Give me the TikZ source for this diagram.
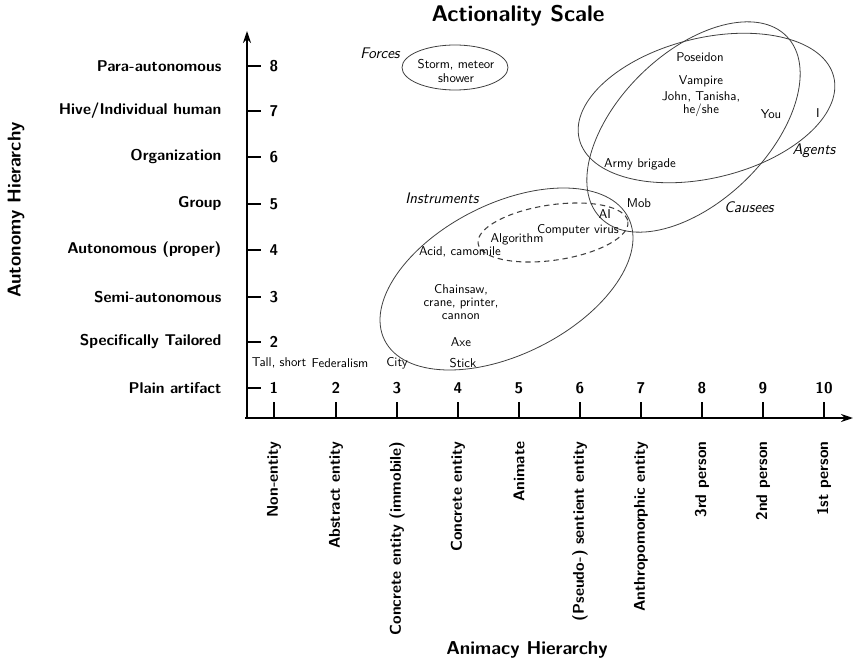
\documentclass[tikz,border=0pt]{standalone}
\usepackage{fontspec}
\usetikzlibrary{arrows.meta}
\begin{document}
\begin{tikzpicture}[x=0.75pt,y=-0.75pt,
  every node/.style={font=\sffamily, inner sep=1pt},
  lbl/.style={font=\sffamily\bfseries\fontsize{11.7}{13}\selectfont},
  ttl/.style={font=\sffamily\bfseries\fontsize{14}{16}\selectfont},
  item/.style={font=\sffamily\fontsize{9.6}{10}\selectfont, align=center},
  cat/.style={font=\sffamily\itshape\fontsize{11.5}{13}\selectfont},
  axis/.style={line width=1.7pt, -{Stealth[length=9pt,width=6pt]}},
  tick/.style={line width=0.8pt},
  ell/.style={draw=black!75, line width=0.6pt}]
\useasboundingbox (0,0) rectangle (853,663);
% title
\node[font=\sffamily\bfseries\fontsize{17}{19}\selectfont] (title) at (518,16) {Actionality Scale};
% axes
\coordinate (o) at (247,418);
\coordinate (ytop) at (247,31);
\coordinate (xend) at (853,418);
\draw[axis] (o) -- (ytop);
\draw[axis] ([xshift=-1.2pt]o) -- (xend);
% y ticks and labels
\foreach \v/\yy/\t in {1/388/{Plain artifact},2/342/{Specifically Tailored},3/297/{Semi-autonomous},4/250/{Autonomous (proper)},5/204/{Group},6/157/{Organization},7/111/{Hive/Individual human},8/66/{Para-autonomous}}{
  \coordinate (yt\v) at (247,\yy);
  \draw[tick] (yt\v) -- ++(14,0);
  \node[lbl, anchor=east] (yl\v) at (223,\yy) {\t};
}
\foreach \v/\yy in {2/342,3/297,4/250,5/204,6/157,7/111,8/66}{
  \node[lbl] (yn\v) at (274,\yy) {\v};
}
% x ticks and labels
\foreach \v/\xx/\t in {1/274/{Non-entity},2/336/{Abstract entity},3/397/{Concrete entity (immobile)},4/458/{Concrete entity},5/519/{Animate},6/580/{(Pseudo-) sentient entity},7/641/{Anthropomorphic entity},8/702/{3rd person},9/763/{2nd person},10/824/{1st person}}{
  \coordinate (xt\v) at (\xx,418);
  \draw[tick] (xt\v) -- ++(0,-16);
  \node[lbl] (xn\v) at (\xx,388) {\v};
  \node[lbl, rotate=90, anchor=east] (xl\v) at (\xx,440) {\t};
}
% axis titles
\node[ttl, rotate=90] (ytitle) at (16,210) {Autonomy Hierarchy};
\node[ttl] (xtitle) at (527,650) {Animacy Hierarchy};
% ellipses
\draw[ell] (455,67.5) ellipse [x radius=53, y radius=22.5];
\draw[ell, rotate around={26.7:(506.5,279)}] (506.5,279) ellipse [x radius=136.4, y radius=75.3];
\draw[ell, line width=0.8pt, dash pattern=on 4pt off 3pt, rotate around={8.3:(553,232.5)}] (553,232.5) ellipse [x radius=75.7, y radius=27.7];
\draw[ell, rotate around={13.7:(706.5,108)}] (706.5,108) ellipse [x radius=131, y radius=70];
\draw[ell, rotate around={44.2:(693.5,127)}] (693.5,127) ellipse [x radius=130, y radius=74.4];
% category labels
\node[cat] (forces) at (380,53) {Forces};
\node[cat] (instr) at (442,198) {Instruments};
\node[cat] (agents) at (814,151) {Agents};
\node[cat] (causees) at (749,207) {Causees};
% items
\node[item] (storm) at (456,71) {Storm, meteor\\shower};
\node[item] (poseidon) at (700,57) {Poseidon};
\node[item] (vampire) at (701,81) {Vampire};
\node[item] (john) at (701,104) {John, Tanisha,\\he/she};
\node[item] (you) at (771,114) {You};
\node[item] (i) at (818,113) {I};
\node[item] (army) at (640,164) {Army brigade};
\node[item] (mob) at (639,203) {Mob};
\node[item] (ai) at (605,214) {AI};
\node[item] (virus) at (578,230) {Computer virus};
\node[item] (algo) at (517,239) {Algorithm};
\node[item] (acid) at (460,252) {Acid, camomile};
\node[item] (chain) at (461,302) {Chainsaw,\\crane, printer,\\cannon};
\node[item] (axe) at (461,342) {Axe};
\node[item] (stick) at (463,363) {Stick};
\node[item] (city) at (397,363) {City};
\node[item] (fed) at (340,363) {Federalism};
\node[item] (tall) at (279,363) {Tall, short};
\end{tikzpicture}
\end{document}
